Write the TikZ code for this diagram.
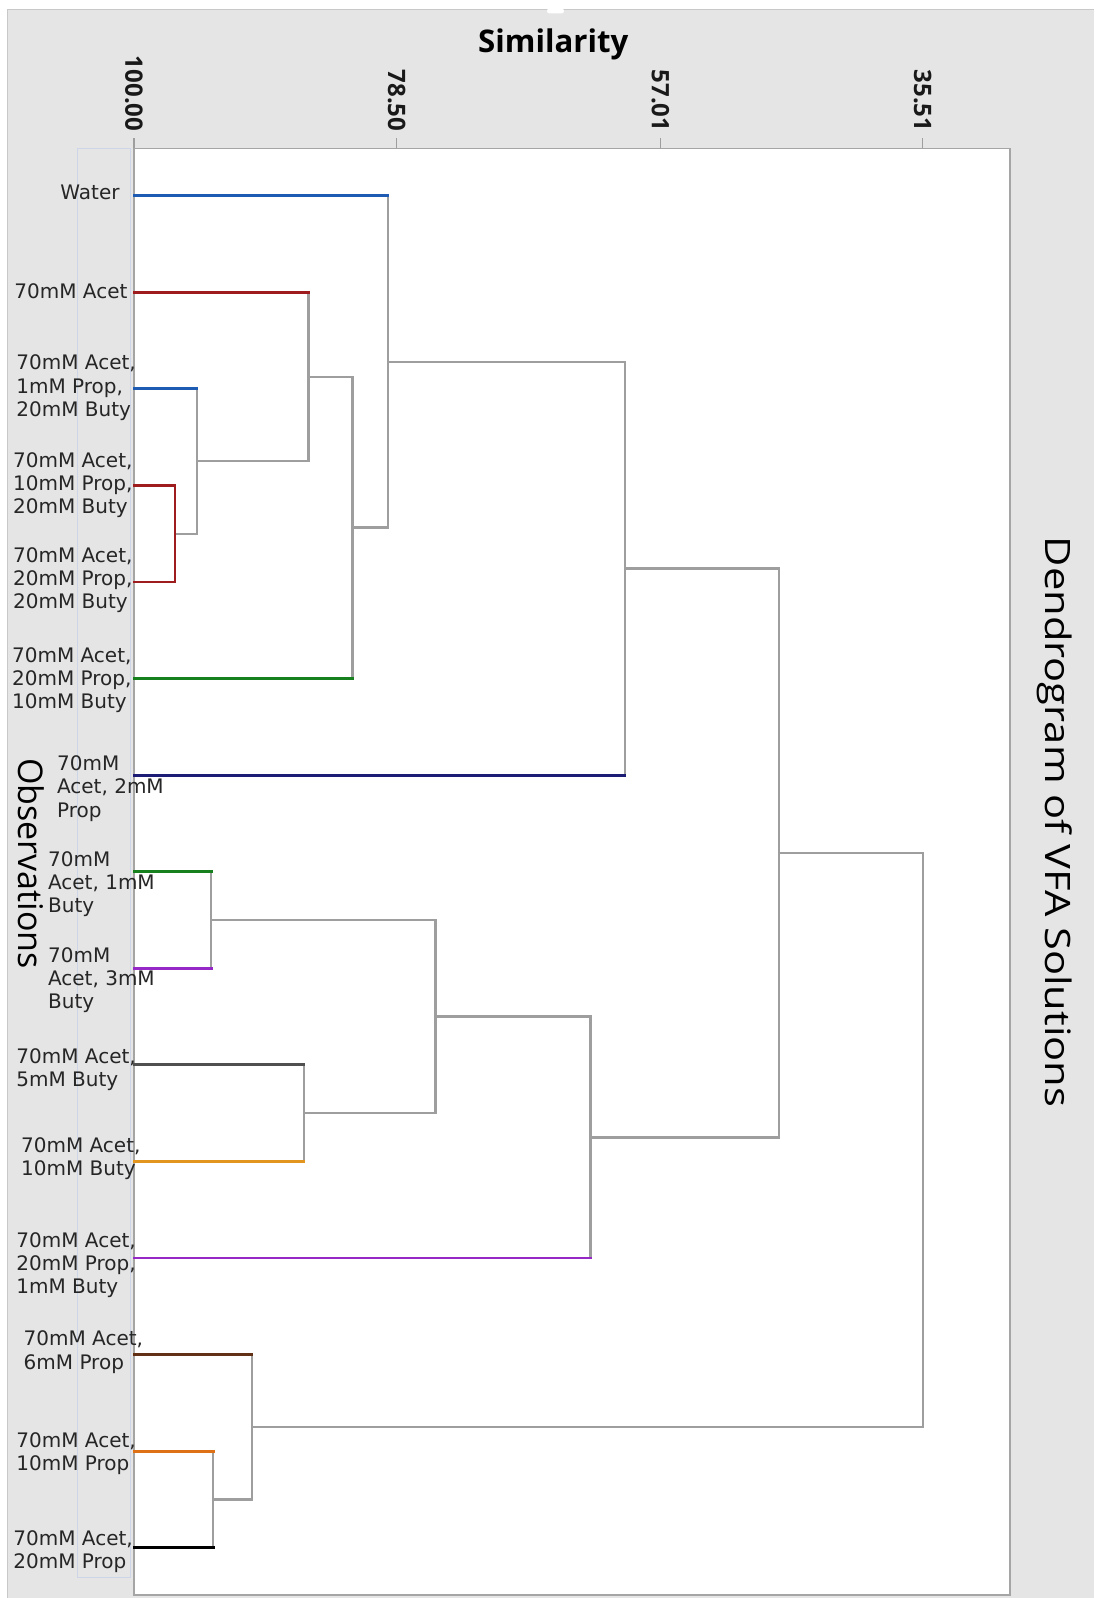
\documentclass[tikz,border=0pt]{standalone}
\usepackage{fontspec}
\setmainfont{DejaVu Sans}
\newfontfamily\lblfont{DejaVu Sans}
\newfontfamily\osfont{Open Sans}
\usetikzlibrary{calc}

\definecolor{bggray}{RGB}{229,229,229}
\definecolor{bgedge}{RGB}{200,200,200}
\definecolor{paneledge}{RGB}{205,214,232}
\definecolor{frame}{RGB}{165,165,165}
\definecolor{linkgray}{RGB}{158,158,158}
\definecolor{cBlue}{RGB}{30,92,180}
\definecolor{cRed}{RGB}{158,28,30}
\definecolor{cGreen}{RGB}{22,128,30}
\definecolor{cNavy}{RGB}{28,28,118}
\definecolor{cPurple}{RGB}{150,40,200}
\definecolor{cDark}{RGB}{80,80,80}
\definecolor{cGold}{RGB}{226,150,32}
\definecolor{cBrown}{RGB}{98,48,20}
\definecolor{cOrange}{RGB}{222,112,22}

\tikzset{
  leafline/.style={line width=1.4pt, line cap=rect},
  linkline/.style={line width=1.2pt, linkgray, line cap=rect},
  tickmark/.style={line width=0.7pt, linkgray},
  obslabel/.style={anchor=north west, inner sep=0pt, align=left,
    font=\lblfont\fontsize{10}{11.65}\selectfont, text=black!85},
  ticklabel/.style={rotate=-90, anchor=east, inner sep=0pt,
    font=\osfont\bfseries\fontsize{12}{14}\selectfont, text=black!90},
}

\begin{document}
\begin{tikzpicture}[x=0.5pt, y=-0.5pt]
\useasboundingbox (0,0) rectangle (1094,1598);

% chart background
\fill[white] (0,0) rectangle (1094,1598);
\fill[bggray] (7.5,9.5) rectangle (1094,1598);
\draw[bgedge, line width=0.8pt] (7.5,1598) -- (7.5,9.5) -- (1094,9.5);
\fill[white, rounded corners=1.2pt] (547,8.5) rectangle (564,13.5);

% observation label panel
\draw[paneledge, line width=0.4pt] (77,148.5) rectangle (130,1577);

% plot area
\fill[white] (134,148.5) rectangle (1010,1595);
\draw[frame, line width=0.8pt] (134,148.5) rectangle (1010,1595);
\draw[frame, line width=1.2pt] (134,148.5) -- (134,1595);

% axis ticks and labels
\coordinate (T1) at (134,148.5);
\coordinate (T2) at (396.7,148.5);
\coordinate (T3) at (660.5,148.5);
\coordinate (T4) at (922.7,148.5);
\foreach \t in {T1,T2,T3,T4} \draw[tickmark] (\t) -- ++(0,-10.5);
\node[ticklabel] (t100) at (134,131.7) {100.00};
\node[ticklabel] (t785) at (396.7,131.7) {78.50};
\node[ticklabel] (t570) at (660.5,131.7) {57.01};
\node[ticklabel] (t355) at (922.7,131.7) {35.51};

% leaves
\coordinate (L1)  at (134,195.8);
\coordinate (L2)  at (134,292.4);
\coordinate (L3)  at (134,388.9);
\coordinate (L4)  at (134,485.5);
\coordinate (L5)  at (134,582.0);
\coordinate (L6)  at (134,678.6);
\coordinate (L7)  at (134,775.2);
\coordinate (L8)  at (134,871.7);
\coordinate (L9)  at (134,968.3);
\coordinate (L10) at (134,1064.8);
\coordinate (L11) at (134,1161.4);
\coordinate (L12) at (134,1257.9);
\coordinate (L13) at (134,1354.5);
\coordinate (L14) at (134,1451.1);
\coordinate (L15) at (134,1547.6);

% merge points (x = similarity level, y = middle of the two branches)
\coordinate (M45)   at (175,533.75);
\coordinate (M3)    at (196.7,461.3);
\coordinate (M2)    at (308.3,376.9);
\coordinate (M6)    at (352.3,527.7);
\coordinate (M1)    at (387.7,361.8);
\coordinate (M7)    at (625,568.5);
\coordinate (M89)   at (211.1,920);
\coordinate (M1011) at (303.8,1113.1);
\coordinate (M811)  at (435.4,1016.6);
\coordinate (M12)   at (590.3,1137.3);
\coordinate (MTop)  at (779,852.9);
\coordinate (M1415) at (213.1,1499.4);
\coordinate (M13)   at (251.8,1427);
\coordinate (MAll)  at (922.7,1140);

% gray links: horizontals
\draw[linkline] (M45) -- (M45 -| M3);
\draw[linkline] (M3) -- (M3 -| M2);
\draw[linkline] (M2) -- (M2 -| M6);
\draw[linkline] (M6) -- (M6 -| M1);
\draw[linkline] (M1) -- (M1 -| M7);
\draw[linkline] (M7) -- (M7 -| MTop);
\draw[linkline] (M89) -- (M89 -| M811);
\draw[linkline] (M1011) -- (M1011 -| M811);
\draw[linkline] (M811) -- (M811 -| M12);
\draw[linkline] (M12) -- (M12 -| MTop);
\draw[linkline] (MTop) -- (MTop -| MAll);
\draw[linkline] (M1415) -- (M1415 -| M13);
\draw[linkline] (M13) -- (M13 -| MAll);
% gray links: verticals
\draw[linkline] (L3 -| M3) -- (M45 -| M3);
\draw[linkline] (L2 -| M2) -- (M3 -| M2);
\draw[linkline] (M2 -| M6) -- (L6 -| M6);
\draw[linkline] (L1 -| M1) -- (M6 -| M1);
\draw[linkline] (M1 -| M7) -- (L7 -| M7);
\draw[linkline] (L8 -| M89) -- (L9 -| M89);
\draw[linkline] (L10 -| M1011) -- (L11 -| M1011);
\draw[linkline] (M89 -| M811) -- (M1011 -| M811);
\draw[linkline] (M811 -| M12) -- (L12 -| M12);
\draw[linkline] (M7 -| MTop) -- (M12 -| MTop);
\draw[linkline] (L14 -| M1415) -- (L15 -| M1415);
\draw[linkline] (L13 -| M13) -- (M1415 -| M13);
\draw[linkline] (MTop -| MAll) -- (M13 -| MAll);

% coloured leaf branches
\draw[leafline, cBlue]   (L1) -- (L1 -| M1);
\draw[leafline, cRed]    (L2) -- (L2 -| M2);
\draw[leafline, cBlue]   (L3) -- (L3 -| M3);
\draw[leafline, cRed]    (L4) -- (L4 -| M45) -- (L5 -| M45) -- (L5);
\draw[leafline, cGreen]  (L6) -- (L6 -| M6);
\draw[leafline, cNavy]   (L7) -- (L7 -| M7);
\draw[leafline, cGreen]  (L8) -- (L8 -| M89);
\draw[leafline, cPurple] (L9) -- (L9 -| M89);
\draw[leafline, cDark]   (L10) -- (L10 -| M1011);
\draw[leafline, cGold]   (L11) -- (L11 -| M1011);
\draw[leafline, cPurple] (L12) -- (L12 -| M12);
\draw[leafline, cBrown]  (L13) -- (L13 -| M13);
\draw[leafline, cOrange] (L14) -- (L14 -| M1415);
\draw[leafline, black]   (L15) -- (L15 -| M1415);

% observation labels
\node[obslabel] (o1)  at (60,184.4)    {Water};
\node[obslabel] (o2)  at (14,283.7)    {70mM Acet};
\node[obslabel] (o3)  at (16,354.7)    {70mM Acet,\\1mM Prop,\\20mM Buty};
\node[obslabel] (o4)  at (12.7,452.1)  {70mM Acet,\\10mM Prop,\\20mM Buty};
\node[obslabel] (o5)  at (12.7,547.1)  {70mM Acet,\\20mM Prop,\\20mM Buty};
\node[obslabel] (o6)  at (11.7,647.1)  {70mM Acet,\\20mM Prop,\\10mM Buty};
\node[obslabel] (o7)  at (56.7,755.4)  {70mM\\Acet, 2mM\\Prop};
\node[obslabel] (o8)  at (47.7,851.1)  {70mM\\Acet, 1mM\\Buty};
\node[obslabel] (o9)  at (47.7,947.1)  {70mM\\Acet, 3mM\\Buty};
\node[obslabel] (o10) at (16,1048)     {70mM Acet,\\5mM Buty};
\node[obslabel] (o11) at (20.7,1136.8) {70mM Acet,\\10mM Buty};
\node[obslabel] (o12) at (16,1232.1)   {70mM Acet,\\20mM Prop,\\1mM Buty};
\node[obslabel] (o13) at (23.3,1330.6) {70mM Acet,\\6mM Prop};
\node[obslabel] (o14) at (16,1432.1)   {70mM Acet,\\10mM Prop};
\node[obslabel] (o15) at (13,1529.9)   {70mM Acet,\\20mM Prop};

% titles
\node[anchor=base, inner sep=0pt, font=\osfont\bfseries\fontsize{15.6}{18}\selectfont]
  (simtitle) at (553.3,53) {Similarity};
\node[rotate=-90, inner sep=0pt, font=\osfont\fontsize{17}{19}\selectfont]
  (obstitle) at (31.7,863.5) {Observations};
\node[rotate=-90, anchor=base, inner sep=0pt, font=\osfont\fontsize{17.5}{19}\selectfont]
  (maintitle) at (1045,822) {\scalebox{1.19}[1]{Dendrogram of VFA Solutions}};
\end{tikzpicture}
\end{document}
